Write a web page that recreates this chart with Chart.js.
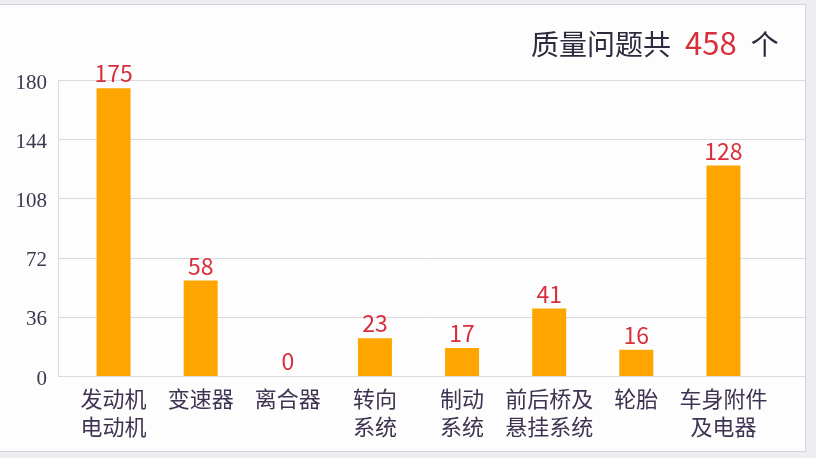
<!DOCTYPE html>
<html>
<head>
<meta charset="utf-8">
<script src="https://cdn.jsdelivr.net/npm/chart.js@4.4.1/dist/chart.umd.min.js"></script>
<style>
    html, body { margin: 0; padding: 0; }
    body { width: 816px; height: 458px; background: #eceef2; position: relative; overflow: hidden; }
    #panel { position: absolute; left: -2px; top: 4px; width: 806px; height: 446px; background: #fdfdfe; border: 1px solid #d3d5db; }
    #title { position: absolute; left: 531px; top: 22px; font-family: "Noto Sans CJK SC"; font-size: 28px; line-height: 40px; color: #2e2a3e; white-space: nowrap; }
    #title .num { color: #d7303c; font-size: 31px; margin: 0 14px 0 14px; }
    #wrap { position: absolute; left: 0; top: 0; width: 816px; height: 458px; }
</style>
</head>
<body>
<div id="panel"></div>
<div id="wrap"><canvas id="qualityChart"></canvas></div>
<div id="title">质量问题共<span class="num">458</span>个</div>

<script>
// カテゴリ（2行のラベルは配列）
const categories = [
    ['发动机', '电动机'],
    '变速器',
    '离合器',
    ['转向', '系统'],
    ['制动', '系统'],
    ['前后桥及', '悬挂系统'],
    '轮胎',
    ['车身附件', '及电器']
];

// 問題の件数
const counts = [175, 58, 0, 23, 17, 41, 16, 128];

// Y軸の目盛り
const yTicks = [0, 36, 72, 108, 144, 180];

// 横のグリッド線とY軸の線（プロット領域の外まで伸ばす）
const gridPlugin = {
    id: 'wideGrid',
    beforeDatasetsDraw(chart) {
        const ctx = chart.ctx;
        const y = chart.scales.y;
        ctx.save();
        ctx.strokeStyle = '#d9dae1';
        ctx.lineWidth = 1;
        y.ticks.forEach(function(t) {
            const py = Math.round(y.getPixelForValue(t.value)) + 0.5;
            ctx.beginPath();
            ctx.moveTo(58, py);
            ctx.lineTo(805, py);
            ctx.stroke();
        });
        ctx.beginPath();
        ctx.moveTo(58.5, Math.round(y.getPixelForValue(yTicks[yTicks.length - 1])) + 0.5);
        ctx.lineTo(58.5, Math.round(y.getPixelForValue(0)) + 0.5);
        ctx.stroke();
        ctx.restore();
    }
};

// 棒の上に数値を表示
const valuePlugin = {
    id: 'barValues',
    afterDatasetsDraw(chart) {
        const ctx = chart.ctx;
        const meta = chart.getDatasetMeta(0);
        ctx.save();
        ctx.fillStyle = '#d7303c';
        ctx.font = '23px "Noto Sans CJK SC"';
        ctx.textAlign = 'center';
        ctx.textBaseline = 'alphabetic';
        meta.data.forEach(function(bar, i) {
            ctx.fillText(String(counts[i]), bar.x, bar.y - 6);
        });
        ctx.restore();
    }
};

const ctx = document.getElementById('qualityChart').getContext('2d');
new Chart(ctx, {
    type: 'bar',
    data: {
        labels: categories,
        datasets: [{
            data: counts,
            backgroundColor: '#ffa500',
            borderWidth: 0,
            categoryPercentage: 1.0,
            barPercentage: 0.39
        }]
    },
    options: {
        responsive: true,
        maintainAspectRatio: false,
        animation: false,
        layout: {
            padding: { top: 80, right: 49, bottom: 0, left: 0 }
        },
        plugins: {
            legend: { display: false },
            tooltip: { enabled: false }
        },
        scales: {
            x: {
                grid: { display: false, drawTicks: false },
                border: { display: false },
                ticks: {
                    color: '#3e3350',
                    font: { family: '"Noto Sans CJK SC"', size: 22, lineHeight: 1.27 },
                    padding: 9,
                    maxRotation: 0,
                    autoSkip: false
                },
                afterFit: function(scale) { scale.height = 82; }
            },
            y: {
                min: 0,
                max: 180,
                grid: { display: false, drawTicks: false },
                border: { display: false },
                ticks: {
                    color: '#3e3650',
                    font: { family: '"Liberation Serif"', size: 21 },
                    padding: 23,
                    labelOffset: 3
                },
                afterBuildTicks: function(scale) {
                    scale.ticks = yTicks.map(function(v) { return { value: v }; });
                },
                afterFit: function(scale) { scale.width = 70; }
            }
        }
    },
    plugins: [gridPlugin, valuePlugin]
});
</script>
</body>
</html>
